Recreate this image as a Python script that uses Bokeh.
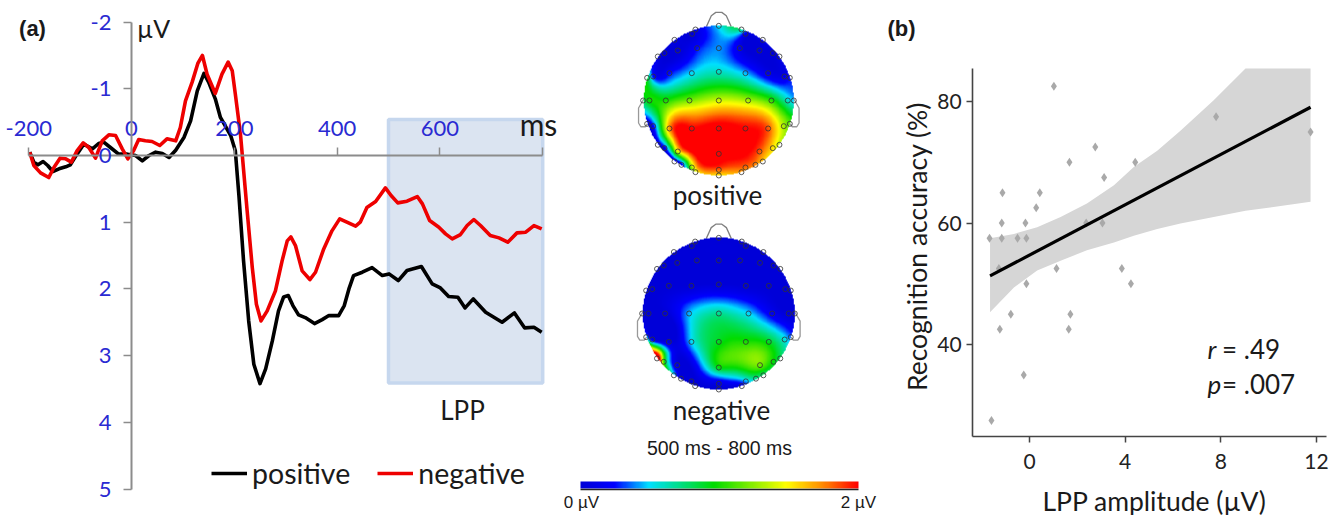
import numpy as np
from bokeh.core.properties import value
from bokeh.embed import file_html
from bokeh.layouts import row
from bokeh.models import (FixedTicker, Legend, LegendItem, LinearAxis, LinearColorMapper, Range1d)
from bokeh.plotting import figure
from bokeh.resources import INLINE

# ---------- data ----------
black_t = [-198,-190,-182,-172,-163,-153,-141,-128,-119,-106,-93,-76,-64,-54,-41,-25,-8,8,21,34,47,60,73,86,102,115,128,141,150,163,173,193,202,209,218,228,238,250,261,274,286,296,305,314,325,338,356,371,384,403,414,423,432,449,468,488,501,519,536,564,585,601,617,635,649,665,689,721,745,765,783,798]
black_v = [-.05,.1,.14,.09,.15,.24,.2,.17,.14,-.02,-.17,-.1,-.18,-.2,-.12,-.02,-.02,0,.08,0,-.05,-.03,.03,-.08,-.27,-.52,-.97,-1.23,-1.1,-.85,-.57,-.3,-.07,.6,1.58,2.48,3.13,3.42,3.2,2.78,2.33,2.12,2.1,2.25,2.39,2.43,2.52,2.46,2.4,2.4,2.25,2.0,1.8,1.75,1.68,1.8,1.775,1.875,1.725,1.665,1.925,1.985,2.115,2.125,2.285,2.15,2.35,2.5,2.36,2.585,2.575,2.65]
red_t = [-198,-190,-177,-161,-151,-139,-128,-117,-106,-94,-83,-70,-57,-44,-31,-18,-7,4,14,27,40,55,69,86,95,105,118,129,138,147,163,176,188,196,202,212,225,235,243,252,264,280,293,303,310,319,332,347,358,374,390,405,419,436,445,458,475,494,505,518,536,556,566,580,598,611,624,640,653,666,679,698,715,732,750,767,783,798]
red_v = [-.05,.15,.26,.33,.18,.04,.05,.1,-.07,-.19,-.12,.04,-.22,-.31,-.3,-.1,.05,-.07,-.24,-.22,-.21,-.15,-.25,-.22,-.42,-.82,-1.1,-1.38,-1.5,-1.22,-.93,-1.22,-1.4,-1.27,-.92,-.32,.83,1.68,2.23,2.48,2.33,2.03,1.58,1.28,1.22,1.35,1.73,1.86,1.75,1.4,1.13,.95,1.0,1.06,1.0,.78,.69,.485,.6,.71,.685,.615,.725,.975,1.075,1.175,1.25,1.185,1.05,.96,1.05,1.2,1.235,1.3,1.16,1.15,1.05,1.1]
lpp_window = (500, 800, -0.54, 3.41)
a_x_ticks = [-200, 0, 200, 400, 600, 800]
a_y_ticks = [-2, -1, 0, 1, 2, 3, 4, 5]

elec_px = [(445,76),(375,87),(513,87),(365,100),(525,100),(312,118),(577,118),(445,143),(380,143),(508,143),(322,150),(567,150),(282,158),(607,158),(262,168),(627,168),(445,214),(364,218),(297,218),(525,218),(593,218),(248,228),(642,228),(230,232),(658,232),(218,300),(237,300),(286,300),(357,300),(445,300),(533,300),(603,300),(652,300),(670,300),(230,370),(658,370),(248,377),(640,377),(297,384),(364,384),(445,384),(525,384),(593,384),(262,433),(627,433),(282,443),(607,443),(322,453),(567,453),(445,460),(312,483),(577,483),(333,493),(555,493),(364,501),(525,501),(445,508),(375,515),(513,515),(445,525)]
pos_uv = [.5,.1,.7,0,.1,.1,.1,.4,.25,.1,0,0,0,0,.1,.1,.6,.5,.25,.45,.1,.2,.1,.9,.25,.8,1.0,1.0,1.2,1.38,1.3,1.05,.6,.45,.05,1.15,.2,1.3,1.75,2.0,2.1,2.0,1.85,0,1.35,.1,1.55,1.5,1.85,2.05,0,1.6,.1,1.75,1.3,1.8,1.85,1.4,1.7,1.5]
neg_uv = [0]*28 + [.45,.7,.5,.15,0,0,.5,.35,0,.55,0,.5,.9,1.0,.9,2.6,.8,1.0,.95,.05,1.2,.95,.5,.75,0,.7,0,.45,.05,0,.1,0]
cmap_stops = [(0,"#0000d8"),(.12,"#0000ff"),(.245,"#00e0ff"),(.48,"#00dc00"),(.74,"#ffff00"),(.87,"#ff8c00"),(1,"#ff0000")]

scatter_x = [-1.67,-1.13,-1.16,-1.16,-.5,-.13,-.17,.28,.43,1.02,1.67,2.75,3.12,2.37,3.05,4.42,7.8,11.75,-1.28,1.13,3.86,-.13,4.24,-.78,1.71,-1.24,1.64,-.24,-1.59]
scatter_y = [57.5,65,60,57.5,57.5,57.5,60,62.5,65,82.5,70,72.5,67.5,60,60,70,77.5,75,52.5,52.5,52.5,50,50,45,45,42.5,42.5,35,27.5]
fit_x = [-1.65, 11.75]
fit_y = [51.3, 79.05]
band_x = [-1.65,-.65,.32,1.3,2.4,3.53,4.36,5.34,6.31,7.7,9.03,11.75]
band_hi = [57.5,58.2,59.3,61,63.2,66.2,69.2,71.9,75.2,80.2,85.43,85.43]
band_lo = [45.3,49.4,52.2,53.8,55.5,56.8,57.9,59,59.9,61,62,63.5]
b_x_ticks = [0, 4, 8, 12]
b_y_ticks = [40, 60, 80]
b_x_bounds = (-2.38, 12.42)
b_y_bounds = (24.86, 85.43)

SANS = "Lato"
ARIAL = "Liberation Sans"
BLUE = "#2a2ad2"
H = 515


def base(width, xr, yr):
    p = figure(width=width, height=H, x_range=Range1d(*xr), y_range=Range1d(*yr),
               output_backend="svg", toolbar_location=None, x_axis_type=None, y_axis_type=None,
               min_border=0, outline_line_color=None, background_fill_color="white", frame_align=False,
               frame_width=width, frame_height=H)
    p.grid.visible = False
    return p


# ---------- panel (a): frame is 560 px wide, 0 ms at x=131, 0 uV at y=155 ----------
PX_MS, PX_UV = 0.514, 66.7
pa = base(560, (-131 / PX_MS, (560 - 131) / PX_MS), ((H - 155) / PX_UV, -155 / PX_UV))
l, r_, t, b = lpp_window
pa.quad(left=[l], right=[r_], top=[t], bottom=[b], fill_color="#dbe4f1", line_color="#c6d7ee", line_width=3.5)
xa = LinearAxis(fixed_location=0, bounds=(-200, 800), ticker=FixedTicker(ticks=a_x_ticks))
ya = LinearAxis(fixed_location=0, bounds=(-2, 5), ticker=FixedTicker(ticks=a_y_ticks))
xa.major_label_overrides = {v: str(v) for v in a_x_ticks}
ya.major_label_overrides = {v: str(v) for v in a_y_ticks}
xa.major_label_overrides[800] = ""
for ax in (xa, ya):
    ax.axis_line_color = "#8c8c8c"; ax.axis_line_width = 2
    ax.major_tick_line_color = "#8c8c8c"; ax.major_tick_line_width = 1.5
    ax.major_tick_in = 0; ax.major_tick_out = 8
    ax.minor_tick_line_color = None
    ax.major_label_text_color = BLUE
    ax.major_label_text_font = SANS
    ax.major_label_text_font_size = "22px"
xa.major_label_standoff = 12
ya.major_label_standoff = 12
pa.add_layout(xa, "above")
pa.add_layout(ya, "left")
rb = pa.line(black_t, black_v, line_color="black", line_width=3.6, line_join="round")
rr = pa.line(red_t, red_v, line_color="#ee0000", line_width=3.6, line_join="round")
leg = Legend(items=[LegendItem(label="positive", renderers=[rb]), LegendItem(label="negative", renderers=[rr])],
             orientation="horizontal", location=(211, 25), glyph_width=36, glyph_height=20,
             label_standoff=5, spacing=27, border_line_alpha=0, background_fill_alpha=0,
             label_text_font=SANS, label_text_font_size="28.5px", label_text_color="#1a1a1a", margin=0, padding=0)
pa.add_layout(leg, "center")


def txt_a(px, py, s, size, font=SANS, style="normal", align="center"):
    pa.text([(px - 131) / PX_MS], [(py - 155) / PX_UV], text=[s], text_font=value(font), text_font_size=size,
            text_font_style=style, text_align=align, text_baseline="middle", text_color="#1a1a1a")


txt_a(32, 28, "(a)", "22px", ARIAL, "bold")
txt_a(153, 27, "µV", "25px")
txt_a(538, 123, "ms", "30px")
txt_a(462, 409, "LPP", "26px")

# ---------- topographic maps ----------
pm = base(320, (560, 880), (0, H))
HEADS = [(718.3, H - 100, 75, pos_uv), (718.3, H - 313, 76, neg_uv)]
ex = (np.array([e[0] for e in elec_px]) - 445) / 225
ey = (300 - np.array([e[1] for e in elec_px])) / 225


def tps(vals, n=320):
    pts = np.c_[ex, ey]
    d = np.linalg.norm(pts[:, None] - pts[None], axis=2)
    phi = lambda r: np.where(r > 0, r * r * np.log(np.maximum(r, 1e-9)), 0)
    P = np.c_[np.ones(len(pts)), pts]
    N = len(pts)
    A = np.block([[phi(d) + 2e-3 * np.eye(N), P], [P.T, np.zeros((3, 3))]])
    w = np.linalg.solve(A, np.r_[vals, 0, 0, 0])
    g = np.linspace(-1, 1, n)
    gx, gy = np.meshgrid(g, g)
    q = np.c_[gx.ravel(), gy.ravel()]
    dq = np.linalg.norm(q[:, None] - pts[None], axis=2)
    z = (phi(dq) @ w[:N] + w[N] + w[N + 1] * q[:, 0] + w[N + 2] * q[:, 1]).reshape(n, n)
    z = np.clip(z, 0, 2)
    z[gx ** 2 + gy ** 2 > 1] = np.nan
    return z


def hexrgb(h):
    return [int(h[i:i + 2], 16) for i in (1, 3, 5)]


fr = [s[0] for s in cmap_stops]
cs = np.array([hexrgb(s[1]) for s in cmap_stops])
tt = np.linspace(0, 1, 256)
palette = ["#%02x%02x%02x" % tuple(int(np.interp(u, fr, cs[:, i])) for i in range(3)) for u in tt]
mapper = LinearColorMapper(palette=palette, low=0, high=2, nan_color=(0, 0, 0, 0))

nose = ([-.165, -.1, -.04, .04, .1, .165], [.985, 1.13, 1.175, 1.175, 1.13, .985])
ear = ([-1.0, -1.07, -1.07, -1.04, -.98, -.95], [.02, -.1, -.3, -.35, -.35, -.31])
for cx, cy, rad, vals in HEADS:
    pm.line(cx + rad * np.array(nose[0]), cy + rad * np.array(nose[1]), line_color="#808080", line_width=1.3)
    for sgn in (-1, 1):
        pm.line(cx + sgn * rad * -np.array(ear[0]), cy + rad * np.array(ear[1]), line_color="#999999", line_width=1.3)
    pm.image(image=[tps(np.array(vals, float))], x=cx - rad, y=cy - rad, dw=2 * rad, dh=2 * rad, color_mapper=mapper)
    pm.scatter(cx + rad * ex, cy + rad * ey, marker="circle", size=5, fill_color=None, line_color="#333333", line_width=1, line_alpha=.8)

pm.image(image=[np.linspace(0, 2, 256)[None, :]], x=580, y=H - 488, dw=278, dh=7, color_mapper=mapper)
pm.line([580, 858], [H - 489, H - 489], line_color="#222222", line_width=1.6)


def txt_m(px, py, s, size, font=SANS):
    pm.text([px], [H - py], text=[s], text_font=value(font), text_font_size=size, text_align="center",
            text_baseline="middle", text_color="#1a1a1a")


txt_m(717, 194, "positive", "26px")
txt_m(721, 409, "negative", "26px")
txt_m(719, 447, "500 ms - 800 ms", "19.5px", ARIAL)
txt_m(581, 502, "0 µV", "17px", ARIAL)
txt_m(858, 502, "2 µV", "17px", ARIAL)

# ---------- panel (b): the frame fills the panel; 0 at x=1029, 80 at y=101 ----------
PX_X, PX_Y = 23.92, 6.075
pb = base(462, (-149 / PX_X, 313 / PX_X), (80 - (H - 101) / PX_Y, 80 + 101 / PX_Y))
pb.varea(band_x, band_lo, band_hi, fill_color="#d6d6d6")
pb.scatter(scatter_x, scatter_y, marker="diamond", size=9, fill_color="#a9a9a9", line_color=None)
pb.line(fit_x, fit_y, line_color="black", line_width=3.2)
xb = LinearAxis(fixed_location=b_y_bounds[0], bounds=b_x_bounds, ticker=FixedTicker(ticks=b_x_ticks))
yb = LinearAxis(fixed_location=b_x_bounds[0], bounds=b_y_bounds, ticker=FixedTicker(ticks=b_y_ticks))
for ax in (xb, yb):
    ax.axis_line_color = "#444444"; ax.axis_line_width = 1.6
    ax.major_tick_line_color = "#444444"; ax.major_tick_line_width = 1.5
    ax.major_tick_in = 0; ax.major_tick_out = 6
    ax.minor_tick_line_color = None
    ax.major_label_text_font = SANS; ax.major_label_text_font_size = "21px"; ax.major_label_text_color = "#222222"
xb.major_label_standoff = 12
yb.major_label_standoff = 5
pb.add_layout(xb, "below")
pb.add_layout(yb, "left")


def txt_b(x, y, s, style="normal", size="26px", font=SANS, align="left", baseline="alphabetic", angle=0):
    pb.text([x], [y], text=[s], text_font=value(font), text_font_size=size, text_font_style=style,
            text_align=align, text_baseline=baseline, text_color="#1a1a1a", angle=angle)


txt_b(7.44, 39.2, "r", "italic")
txt_b(8.05, 39.2, "= .49")
txt_b(7.44, 33.5, "p", "italic")
txt_b(8.05, 33.5, "= .007")
txt_b((901 - 1029) / PX_X, 80 + (101 - 28) / PX_Y, "(b)", "bold", "22px", ARIAL, "center", "middle")
txt_b((1154 - 1029) / PX_X, 80 - (500 - 101) / PX_Y, "LPP amplitude (µV)", size="26.5px", align="center", baseline="middle")
txt_b((916 - 1029) / PX_X, 80 - (246 - 101) / PX_Y, "Recognition accuracy (%)", size="26.5px", align="center",
      baseline="middle", angle=np.pi / 2)

root = row(pa, pm, pb, margin=(0, 0, 0, 0), spacing=0)
open("out.html", "w").write(file_html(root, INLINE))
